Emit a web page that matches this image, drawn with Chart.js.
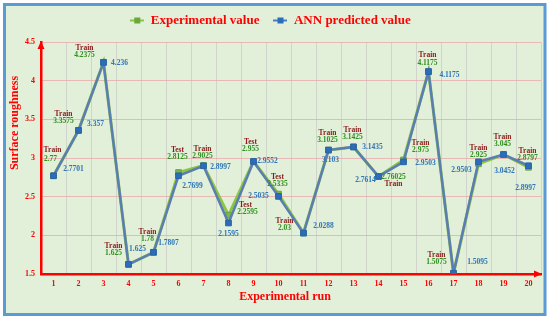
<!DOCTYPE html>
<html>
<head>
<meta charset="utf-8">
<script src="https://cdn.jsdelivr.net/npm/chart.js@4.4.1/dist/chart.umd.min.js"></script>
<style>
    html, body { margin: 0; padding: 0; background: #ffffff; }
    #wrap { width: 550px; height: 320px; position: relative; }
</style>
</head>
<body>
<div id="wrap"><canvas id="roughChart" width="550" height="320"></canvas></div>
<script>
// DATA
const runs = ['1', '2', '3', '4', '5', '6', '7', '8', '9', '10', '11', '12', '13', '14', '15', '16', '17', '18', '19', '20'];
const experimental = [2.77, 3.3575, 4.2375, 1.625, 1.78, 2.8125, 2.9025, 2.2595, 2.955, 2.5335, 2.03, 3.1025, 3.1425, 2.76025, 2.975, 4.1175, 1.5075, 2.925, 3.045, 2.8797];
const predicted = [2.7701, 3.357, 4.236, 1.625, 1.7807, 2.7699, 2.8997, 2.1595, 2.9552, 2.5035, 2.0288, 3.103, 3.1435, 2.7614, 2.9503, 4.1175, 1.5095, 2.9503, 3.0452, 2.8997];
const sets = ['Train', 'Train', 'Train', 'Train', 'Train', 'Test', 'Train', 'Test', 'Test', 'Test', 'Train', 'Train', 'Train', 'Train', 'Train', 'Train', 'Train', 'Train', 'Train', 'Train'];
const yTicks = [1.5, 2, 2.5, 3, 3.5, 4, 4.5];

const SERIF = '"Liberation Serif", "Times New Roman", serif';
const RED = '#ff0000';

// label placement around each point: [tag dx, tag dy, green dx, green dy, blue dx, blue dy]
const labelOffsets = [
    [-1, -26, -3, -17, 20, -7],
    [-15, -16, -15, -9, 17, -6],
    [-19, -14, -19, -7, 16, 1],
    [-15, -18, -15, -11, 9, -15],
    [-6, -20, -6, -13, 15, -9],
    [-1, -22, -1, -15, 14, 10],
    [-1, -16, -1, -9, 17, 1],
    [17, -10, 19, -3, 0, 11],
    [-3, -19, -3, -12, 14, 0],
    [-1, -17, -1, -10, -20, 0],
    [-19, -12, -19, -5, 20, -7],
    [-1, -17, -1, -10, 2, 10],
    [-1, -17, -1, -10, 19, 0],
    [15, 8, 15, 1, -13, 4],
    [17, -17, 17, -10, 22, 1],
    [-1, -17, -1, -9, 21, 3],
    [-17, -18, -17, -11, 24, -11],
    [0, -16, 0, -9, -17, 8],
    [-1, -17, -1, -10, 1, 17],
    [-1, -16, -1, -9, -3, 22]
];

// legend marker: short line with a square on it
function legendMarker(lineColor, boxColor) {
    const c = document.createElement('canvas');
    c.width = 14;
    c.height = 8;
    const g = c.getContext('2d');
    g.strokeStyle = lineColor;
    g.lineWidth = 2;
    g.beginPath();
    g.moveTo(0, 4);
    g.lineTo(14, 4);
    g.stroke();
    g.fillStyle = boxColor;
    g.fillRect(4, 1, 6, 6);
    return c;
}

// PLUGINS

const framePlugin = {
    id: 'frame',
    beforeInit(chart) {
        // leave a bit more room under the legend
        const fit = chart.legend.fit;
        chart.legend.fit = function () {
            fit.bind(this)();
            this.height += 5;
        };
    },
    beforeDraw(chart) {
        const ctx = chart.ctx;
        ctx.save();
        ctx.fillStyle = '#ffffff';
        ctx.fillRect(0, 0, chart.width, chart.height);
        ctx.fillStyle = '#e2efd9';
        ctx.fillRect(4, 4, 541, 311);
        ctx.strokeStyle = '#5b9bd5';
        ctx.lineWidth = 3;
        ctx.strokeRect(4.5, 4.5, 540.5, 310);
        ctx.restore();
    }
};

const decorPlugin = {
    id: 'decor',
    afterDraw(chart) {
        const ctx = chart.ctx;
        const area = chart.chartArea;
        ctx.save();
        ctx.fillStyle = RED;

        // axis arrows
        ctx.beginPath();
        ctx.moveTo(area.left, area.top - 1);
        ctx.lineTo(area.left - 3.5, area.top + 7);
        ctx.lineTo(area.left + 3.5, area.top + 7);
        ctx.closePath();
        ctx.fill();

        ctx.beginPath();
        ctx.moveTo(area.right + 1, area.bottom);
        ctx.lineTo(area.right - 7, area.bottom - 3.5);
        ctx.lineTo(area.right - 7, area.bottom + 3.5);
        ctx.closePath();
        ctx.fill();

        // axis titles
        ctx.font = `bold 12px ${SERIF}`;
        ctx.textAlign = 'center';
        ctx.textBaseline = 'middle';
        ctx.fillText('Experimental run', 285, 297);
        ctx.translate(15, 123);
        ctx.rotate(-Math.PI / 2);
        ctx.fillText('Surface roughness', 0, 0);
        ctx.restore();
    }
};

const valueLabelPlugin = {
    id: 'valueLabels',
    afterDatasetsDraw(chart) {
        const ctx = chart.ctx;
        const expMeta = chart.getDatasetMeta(0);
        const annMeta = chart.getDatasetMeta(1);
        ctx.save();
        ctx.font = `bold 7.5px ${SERIF}`;
        ctx.textAlign = 'center';
        ctx.textBaseline = 'middle';
        runs.forEach((run, i) => {
            const e = expMeta.data[i];
            const a = annMeta.data[i];
            const o = labelOffsets[i];
            ctx.fillStyle = '#8b1a1a';
            ctx.fillText(sets[i], e.x + o[0], e.y + o[1]);
            ctx.fillStyle = '#2f8f1f';
            ctx.fillText(String(experimental[i]), e.x + o[2], e.y + o[3]);
            ctx.fillStyle = '#2e75b6';
            ctx.fillText(String(predicted[i]), a.x + o[4], a.y + o[5]);
        });
        ctx.restore();
    }
};

// CHART

const tickFont = { family: SERIF, size: 8, weight: 'bold' };

new Chart(document.getElementById('roughChart'), {
    type: 'line',
    data: {
        labels: runs,
        datasets: [{
            label: 'Experimental value',
            data: experimental,
            order: 2,
            borderColor: '#8dc63f',
            borderWidth: 3,
            pointStyle: 'rect',
            pointRadius: 4,
            pointBackgroundColor: '#7ab648',
            pointBorderColor: '#6aa83a',
            pointBorderWidth: 1,
            tension: 0
        }, {
            label: 'ANN predicted value',
            data: predicted,
            order: 1,
            borderColor: '#5a7db3',
            borderWidth: 2.5,
            pointStyle: 'rect',
            pointRadius: 4,
            pointBackgroundColor: '#2a6ebb',
            pointBorderColor: '#2a62a8',
            pointBorderWidth: 1,
            tension: 0
        }]
    },
    options: {
        responsive: false,
        animation: false,
        devicePixelRatio: 1,
        layout: {
            padding: { top: 0, right: 9, bottom: 0, left: 0 }
        },
        plugins: {
            legend: {
                display: true,
                position: 'top',
                labels: {
                    usePointStyle: true,
                    pointStyleWidth: 14,
                    padding: 14,
                    color: RED,
                    font: { family: SERIF, size: 13, weight: 'bold' },
                    sort: (a, b) => a.datasetIndex - b.datasetIndex,
                    generateLabels: (chart) => [
                        { text: 'Experimental value', datasetIndex: 0, pointStyle: legendMarker('#8dc63f', '#6aa83a'), fontColor: RED, lineWidth: 0, strokeStyle: 'transparent', fillStyle: 'transparent' },
                        { text: 'ANN predicted value', datasetIndex: 1, pointStyle: legendMarker('#4f7fc0', '#2a6ebb'), fontColor: RED, lineWidth: 0, strokeStyle: 'transparent', fillStyle: 'transparent' }
                    ]
                }
            },
            tooltip: { enabled: false }
        },
        scales: {
            x: {
                offset: true,
                afterFit: (scale) => { scale.height = 46; },
                grid: {
                    offset: true,
                    color: 'rgba(205, 210, 200, 0.9)',
                    lineWidth: 1,
                    drawTicks: false
                },
                border: { color: RED, width: 2.5 },
                ticks: {
                    color: RED,
                    font: tickFont,
                    padding: 5,
                    maxRotation: 0,
                    autoSkip: false
                }
            },
            y: {
                min: yTicks[0],
                max: yTicks[yTicks.length - 1],
                afterFit: (scale) => { scale.width = 41; },
                afterBuildTicks: (scale) => { scale.ticks = yTicks.map(v => ({ value: v })); },
                grid: {
                    color: 'rgba(232, 170, 170, 0.8)',
                    lineWidth: 1,
                    drawTicks: false
                },
                border: { color: RED, width: 2.5 },
                ticks: {
                    color: RED,
                    font: tickFont,
                    padding: 6,
                    callback: (value) => String(value)
                }
            }
        }
    },
    plugins: [framePlugin, valueLabelPlugin, decorPlugin]
});
</script>
</body>
</html>
